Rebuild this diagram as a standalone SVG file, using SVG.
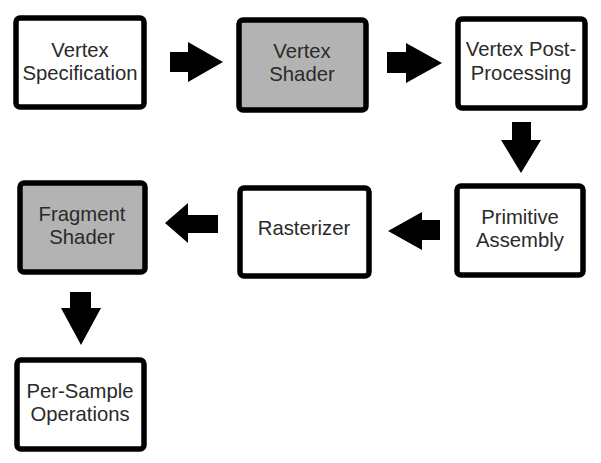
<svg xmlns="http://www.w3.org/2000/svg" width="601" height="463" viewBox="0 0 601 463">
<style>
.box{fill:#fff;stroke:#000;stroke-width:5.5}
.gray{fill:#b3b3b3}
.t{font-family:"Liberation Sans",Arial,sans-serif;font-size:20.3px;fill:#2a2a2a;text-anchor:middle}
.arr{fill:#000}
</style>
<rect width="601" height="463" fill="#fff"/>
<g id="vertex-specification">
<rect class="box" x="16" y="18" width="128" height="89" rx="4"/>
<text class="t" x="80" y="57">Vertex</text>
<text class="t" x="80" y="80">Specification</text>
</g>
<g id="vertex-shader">
<rect class="box gray" x="239" y="20" width="127" height="90" rx="4"/>
<text class="t" x="302" y="58">Vertex</text>
<text class="t" x="302" y="81">Shader</text>
</g>
<g id="vertex-post-processing">
<rect class="box" x="458" y="19" width="127" height="89" rx="4"/>
<text class="t" x="521" y="56">Vertex Post-</text>
<text class="t" x="521" y="80">Processing</text>
</g>
<g id="primitive-assembly">
<rect class="box" x="457" y="186" width="126" height="89" rx="4"/>
<text class="t" x="520" y="224">Primitive</text>
<text class="t" x="520" y="247">Assembly</text>
</g>
<g id="rasterizer">
<rect class="box" x="240" y="188" width="129" height="88" rx="4"/>
<text class="t" x="304" y="235">Rasterizer</text>
</g>
<g id="fragment-shader">
<rect class="box gray" x="20" y="183" width="125" height="89" rx="4"/>
<text class="t" x="82" y="221">Fragment</text>
<text class="t" x="82" y="244">Shader</text>
</g>
<g id="per-sample-operations">
<rect class="box" x="17" y="360" width="127" height="89" rx="4"/>
<text class="t" x="80" y="398">Per-Sample</text>
<text class="t" x="80" y="421">Operations</text>
</g>
<g id="connectors">
<polygon class="arr" points="170,52 188,52 188,42 223,62 188,82 188,72 170,72"/>
<polygon class="arr" points="387,52 406,52 406,43 442,63 406,83 406,73 387,73"/>
<polygon class="arr" points="512,122 531,122 531,140 541,140 521,173 501,140 512,140"/>
<polygon class="arr" points="440,220 422,220 422,212 388,231 422,250 422,240 440,240"/>
<polygon class="arr" points="218,215 188,215 188,203 165,223 188,243 188,233 218,233"/>
<polygon class="arr" points="70,292 91,292 91,308 101,308 81,345 61,308 70,308"/>
</g>
</svg>
